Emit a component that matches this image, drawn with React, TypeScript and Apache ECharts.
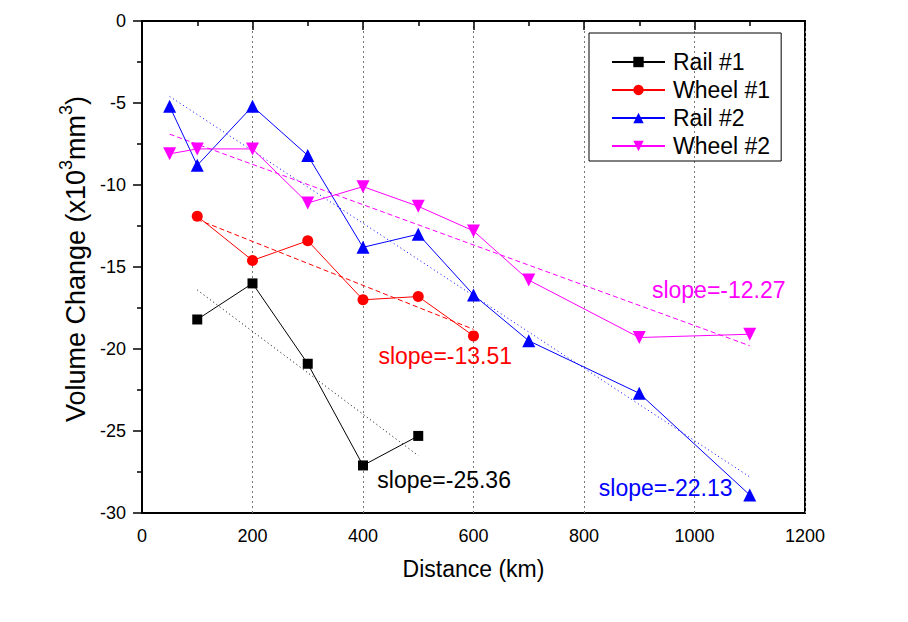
import React, { useEffect, useRef } from "react";
import * as echarts from "echarts";

const FONT = '"Liberation Sans", Arial, sans-serif';

// Measured series (distance km, volume change x10^3 mm^3)
const rail1X = [100, 200, 300, 400, 500];
const rail1Y = [-18.2, -16.0, -20.9, -27.1, -25.3];
const wheel1X = [100, 200, 300, 400, 500, 600];
const wheel1Y = [-11.9, -14.6, -13.4, -17.0, -16.8, -19.2];
const rail2X = [50, 100, 200, 300, 400, 500, 600, 700, 900, 1100];
const rail2Y = [-5.2, -8.8, -5.2, -8.2, -13.8, -13.0, -16.7, -19.5, -22.7, -28.9];
const wheel2X = [50, 100, 200, 300, 400, 500, 600, 700, 900, 1100];
const wheel2Y = [-8.1, -7.8, -7.8, -11.1, -10.1, -11.3, -12.8, -15.8, -19.3, -19.1];

// Linear fit lines (end points)
const fit1X = [100, 500];
const fit1Y = [-16.4, -26.5];
const fitW1X = [100, 600];
const fitW1Y = [-12.1, -18.8];
const fit2X = [50, 1100];
const fit2Y = [-4.6, -27.8];
const fitW2X = [50, 1100];
const fitW2Y = [-6.9, -19.8];

// Slope annotations
const slopeText = ["slope=-25.36", "slope=-13.51", "slope=-12.27", "slope=-22.13"];
const slopeX = [425, 427, 922, 826];
const slopeY = [-28.0, -20.45, -16.4, -28.5];
const slopeColor = ["#000000", "#ff0000", "#ff00ff", "#0000ff"];

const xTicks = [0, 200, 400, 600, 800, 1000, 1200];
const yTicks = [0, -5, -10, -15, -20, -25, -30];

const zip = (xs: number[], ys: number[]) => xs.map((x, i) => [x, ys[i]]);

export default function App() {
  const ref = useRef<HTMLDivElement>(null);
  useEffect(() => {
    if (!ref.current) return;
    const chart = echarts.init(ref.current, null, { renderer: "svg" });
    const mainSeries = (name: string, xs: number[], ys: number[], color: string, symbol: string, size: number, rotate = 0) => ({
      name,
      type: "line",
      data: zip(xs, ys),
      symbol,
      symbolSize: size,
      symbolRotate: rotate,
      showSymbol: true,
      lineStyle: { color, width: 1 },
      itemStyle: { color },
      z: 5,
    });
    const fitSeries = (name: string, xs: number[], ys: number[], color: string, dash: number[]) => ({
      name,
      type: "line",
      data: zip(xs, ys),
      showSymbol: false,
      symbol: "none",
      lineStyle: { color, width: 1, type: dash },
      z: 3,
      silent: true,
    });
    chart.setOption({
      animation: false,
      backgroundColor: "#ffffff",
      textStyle: { fontFamily: FONT },
      grid: {
        left: 142,
        right: 103,
        top: 21,
        bottom: 109,
        show: true,
        borderColor: "#000",
        borderWidth: 2,
        backgroundColor: "transparent",
      },
      legend: {
        orient: "vertical",
        left: 589,
        top: 33,
        padding: [17, 11, 3, 22],
        borderColor: "#000",
        borderWidth: 1,
        itemWidth: 53,
        itemHeight: 13,
        itemGap: 4,
        data: ["Rail #1", "Wheel #1", "Rail #2", "Wheel #2"],
        textStyle: { fontFamily: FONT, fontSize: 23, color: "#000", lineHeight: 24, padding: [0, 0, 0, 3] },
      },
      xAxis: {
        type: "value",
        min: xTicks[0],
        max: xTicks[xTicks.length - 1],
        interval: 200,
        name: "Distance (km)",
        nameLocation: "middle",
        nameGap: 44,
        nameTextStyle: { fontFamily: FONT, fontSize: 23, color: "#000" },
        axisLine: { show: true, lineStyle: { color: "#000", width: 2 } },
        axisTick: { show: true, inside: false, length: 9, lineStyle: { color: "#000", width: 1.5 } },
        minorTick: { show: true, splitNumber: 2, length: 5, lineStyle: { color: "#000", width: 1.5 } },
        axisLabel: { fontFamily: FONT, fontSize: 18, color: "#000", margin: 14, formatter: (v: number) => String(v) },
        splitLine: { show: true, lineStyle: { color: "#777", width: 1, type: [2, 3] } },
      },
      yAxis: {
        type: "value",
        min: yTicks[yTicks.length - 1],
        max: yTicks[0],
        interval: 5,
        name: "{a|Volume Change (x10}{s|3}{a|mm}{s|3}{a|)}",
        nameLocation: "middle",
        nameRotate: 90,
        nameGap: 49,
        nameTextStyle: {
          fontFamily: FONT,
          fontSize: 27,
          color: "#000",
          padding: [0, 0, 0, 16],
          rich: {
            a: { fontFamily: FONT, fontSize: 27, color: "#000", lineHeight: 32, verticalAlign: "bottom" },
            s: { fontFamily: FONT, fontSize: 18, color: "#000", lineHeight: 20, verticalAlign: "top" },
          },
        },
        axisLine: { show: true, lineStyle: { color: "#000", width: 2 } },
        axisTick: { show: true, inside: false, length: 9, lineStyle: { color: "#000", width: 1.5 } },
        minorTick: { show: true, splitNumber: 2, length: 5, lineStyle: { color: "#000", width: 1.5 } },
        axisLabel: { fontFamily: FONT, fontSize: 18, color: "#000", margin: 16, formatter: (v: number) => String(v) },
        splitLine: { show: false },
      },
      series: [
        fitSeries("fit1", fit1X, fit1Y, "#000", [1, 3]),
        fitSeries("fitW1", fitW1X, fitW1Y, "#ff0000", [5, 3]),
        fitSeries("fit2", fit2X, fit2Y, "#0000ff", [1, 3]),
        fitSeries("fitW2", fitW2X, fitW2Y, "#ff00ff", [5, 3]),
        mainSeries("Rail #1", rail1X, rail1Y, "#000000", "rect", 10),
        mainSeries("Wheel #1", wheel1X, wheel1Y, "#ff0000", "circle", 11),
        mainSeries("Rail #2", rail2X, rail2Y, "#0000ff", "triangle", 13),
        mainSeries("Wheel #2", wheel2X, wheel2Y, "#ff00ff", "triangle", 13, 180),
        {
          name: "slopes",
          type: "scatter",
          symbolSize: 1,
          itemStyle: { color: "rgba(0,0,0,0)", opacity: 1 },
          silent: true,
          data: slopeText.map((t, i) => ({
            value: [slopeX[i], slopeY[i]],
            label: {
              show: true,
              position: "right",
              distance: 0,
              formatter: t,
              fontFamily: FONT,
              fontSize: 23,
              color: slopeColor[i],
              opacity: 1,
            },
          })),
          z: 6,
        },
      ],
    });
    return () => chart.dispose();
  }, []);
  return (
    <div
      ref={ref}
      style={{ position: "fixed", left: 0, top: 0, width: 908, height: 622, background: "#fff" }}
    />
  );
}
